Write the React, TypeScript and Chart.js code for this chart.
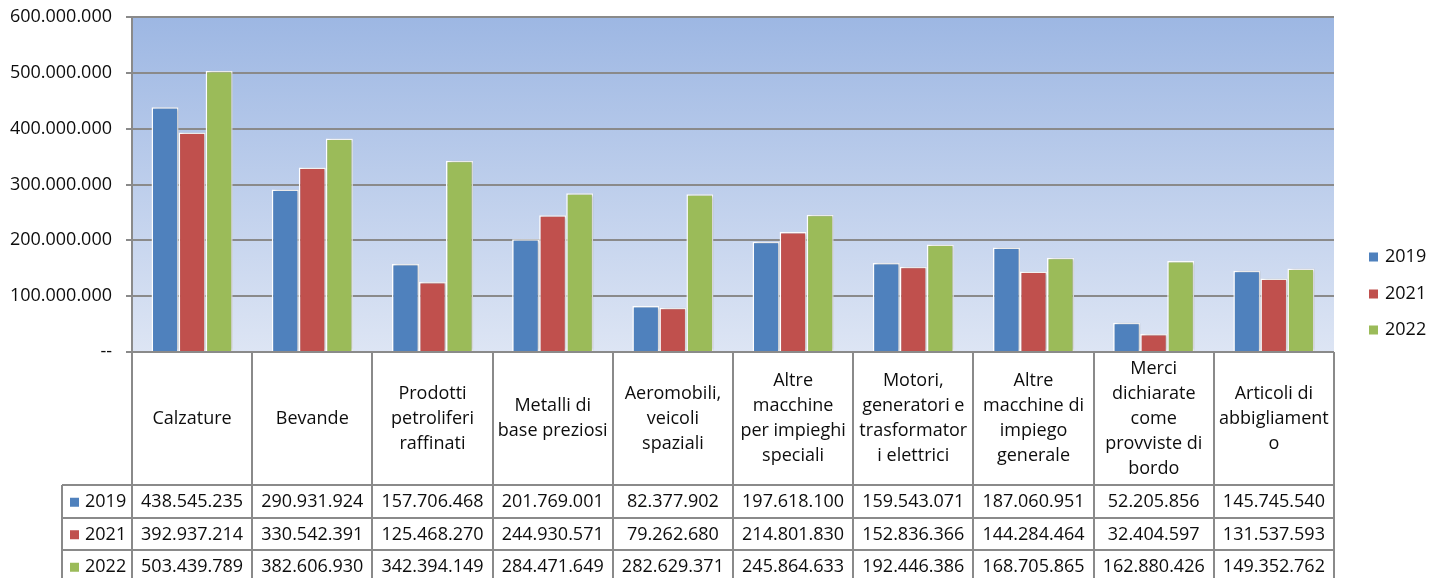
import React, { useEffect, useRef } from 'react';
import { Chart, registerables } from 'chart.js';

Chart.register(...registerables);

const categories: string[][] = [
  ['Calzature'],
  ['Bevande'],
  ['Prodotti', 'petroliferi', 'raffinati'],
  ['Metalli di', 'base preziosi'],
  ['Aeromobili,', 'veicoli', 'spaziali'],
  ['Altre', 'macchine', 'per impieghi', 'speciali'],
  ['Motori,', 'generatori e', 'trasformator', 'i elettrici'],
  ['Altre', 'macchine di', 'impiego', 'generale'],
  ['Merci', 'dichiarate', 'come', 'provviste di', 'bordo'],
  ['Articoli di', 'abbigliament', 'o'],
];

const seriesLabels = ['2019', '2021', '2022'];
const seriesColors = ['#4f81bd', '#c0504d', '#9bbb59'];

const values2019 = [438545235, 290931924, 157706468, 201769001, 82377902, 197618100, 159543071, 187060951, 52205856, 145745540];
const values2021 = [392937214, 330542391, 125468270, 244930571, 79262680, 214801830, 152836366, 144284464, 32404597, 131537593];
const values2022 = [503439789, 382606930, 342394149, 284471649, 282629371, 245864633, 192446386, 168705865, 162880426, 149352762];

const yMin = 0;
const yMax = 600000000;
const yStep = 100000000;

const FONT = '"Open Sans", "Liberation Sans", sans-serif';
const FONT_SIZE = 18;
const TEXT_COLOR = '#0d0d0d';
const LINE_COLOR = '#8a8a8a';

function fmt(n: number): string {
  if (n === 0) return '--';
  return String(Math.round(n)).replace(/\B(?=(\d{3})+(?!\d))/g, '.');
}

const allSeries = [values2019, values2021, values2022];

const bgPlugin = {
  id: 'plotBg',
  beforeDraw(chart: any) {
    const { ctx, chartArea } = chart;
    const g = ctx.createLinearGradient(0, chartArea.top, 0, chartArea.bottom);
    g.addColorStop(0, '#9db7e3');
    g.addColorStop(1, '#dde5f4');
    ctx.save();
    ctx.fillStyle = g;
    ctx.fillRect(chartArea.left, chartArea.top, chartArea.right - chartArea.left, chartArea.bottom - chartArea.top);
    ctx.restore();
  },
  beforeDatasetsDraw(chart: any) {
    const ctx = chart.ctx;
    ctx.save();
    ctx.shadowColor = 'rgba(0,0,0,0.22)';
    ctx.shadowOffsetX = 2;
    ctx.shadowOffsetY = 0;
    ctx.shadowBlur = 3;
  },
  afterDatasetsDraw(chart: any) {
    chart.ctx.restore();
  },
};

const tablePlugin = {
  id: 'dataTable',
  afterDraw(chart: any) {
    const { ctx, chartArea } = chart;
    const xScale = chart.scales.x;
    const n = categories.length;
    const left = chartArea.left;
    const right = chartArea.right;
    const catW = (right - left) / n;
    const top = chartArea.bottom;
    const rowTop = top + 133;
    const rowH = 32.5;
    const H = chart.height;
    const keyLeft = 62;

    ctx.save();
    ctx.strokeStyle = LINE_COLOR;
    ctx.lineWidth = 2;
    for (let i = 0; i <= n; i++) {
      const x = Math.round(left + i * catW);
      ctx.beginPath();
      ctx.moveTo(x, top);
      ctx.lineTo(x, H + 5);
      ctx.stroke();
    }
    ctx.beginPath();
    ctx.moveTo(keyLeft, rowTop);
    ctx.lineTo(keyLeft, H + 5);
    ctx.stroke();
    for (let r = 0; r <= seriesLabels.length; r++) {
      const y = Math.round(rowTop + r * rowH);
      ctx.beginPath();
      ctx.moveTo(keyLeft, y);
      ctx.lineTo(right, y);
      ctx.stroke();
    }

    ctx.font = `${FONT_SIZE}px ${FONT}`;
    ctx.fillStyle = TEXT_COLOR;
    ctx.textAlign = 'center';
    ctx.textBaseline = 'middle';
    const lineH = 25;
    const labelMid = (top + rowTop) / 2;
    for (let i = 0; i < n; i++) {
      const cx = xScale.getPixelForValue(i);
      const lines = categories[i];
      const y0 = labelMid - ((lines.length - 1) * lineH) / 2;
      lines.forEach((ln, k) => ctx.fillText(ln, cx, y0 + k * lineH));
    }
    for (let r = 0; r < seriesLabels.length; r++) {
      const cy = rowTop + r * rowH + rowH / 2 + 1;
      for (let i = 0; i < n; i++) {
        const cx = xScale.getPixelForValue(i);
        ctx.fillText(fmt(allSeries[r][i]), cx, cy);
      }
      ctx.fillStyle = seriesColors[r];
      ctx.fillRect(70, cy - 4.5, 9, 9);
      ctx.fillStyle = TEXT_COLOR;
      ctx.textAlign = 'left';
      ctx.fillText(seriesLabels[r], 85, cy);
      ctx.textAlign = 'center';
    }

    const legY = [257, 294, 330];
    ctx.textAlign = 'left';
    for (let r = 0; r < seriesLabels.length; r++) {
      ctx.fillStyle = seriesColors[r];
      ctx.fillRect(1369, legY[r] - 4.5, 9, 9);
      ctx.fillStyle = TEXT_COLOR;
      ctx.fillText(seriesLabels[r], 1385, legY[r]);
    }
    ctx.restore();
  },
};

export default function App() {
  const ref = useRef<HTMLCanvasElement | null>(null);

  useEffect(() => {
    if (!ref.current) return;
    const chart = new Chart(ref.current, {
      type: 'bar',
      data: {
        labels: categories.map((c) => c.join(' ')),
        datasets: seriesLabels.map((label, i) => ({
          label,
          data: allSeries[i],
          backgroundColor: seriesColors[i],
          borderColor: '#ffffff',
          borderWidth: 1.5,
          categoryPercentage: 0.675,
          barPercentage: 1,
        })),
      },
      options: {
        responsive: true,
        maintainAspectRatio: false,
        animation: false,
        layout: { padding: { top: 17, right: 104, bottom: 226, left: 0 } },
        plugins: {
          legend: { display: false },
          tooltip: { enabled: false },
          title: { display: false },
        },
        scales: {
          x: {
            type: 'category',
            grid: { display: false },
            border: { display: false },
            ticks: { display: false },
            afterFit: (s: any) => {
              s.height = 0;
              s.paddingLeft = 0;
              s.paddingRight = 0;
            },
          },
          y: {
            min: yMin,
            max: yMax,
            ticks: {
              stepSize: yStep,
              padding: 14,
              color: TEXT_COLOR,
              font: { family: FONT, size: FONT_SIZE },
              callback: (v: any) => fmt(Number(v)),
            },
            grid: {
              color: LINE_COLOR,
              lineWidth: 2,
              tickLength: 6,
              drawTicks: true,
            },
            border: { display: true, color: LINE_COLOR, width: 2 },
            afterFit: (s: any) => {
              s.width = 132;
              s.paddingTop = 0;
              s.paddingBottom = 0;
            },
          },
        },
      },
      plugins: [bgPlugin, tablePlugin],
    });
    return () => chart.destroy();
  }, []);

  return (
    <div style={{ position: 'fixed', left: 0, top: 0, width: 1438, height: 578, background: '#fff' }}>
      <canvas ref={ref} />
    </div>
  );
}
